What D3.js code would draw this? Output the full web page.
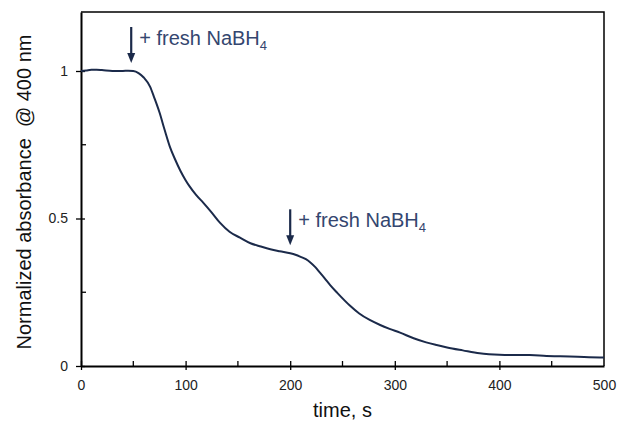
<!DOCTYPE html>
<html>
<head>
<meta charset="utf-8">
<script src="https://cdn.jsdelivr.net/npm/d3@7"></script>
<style>
	body { margin: 0; background: #fff; }
	svg { display: block; font-family: "Liberation Sans", Arial, sans-serif; }
</style>
</head>
<body>
<div class="c-svg"></div>
<script>
//DATA
//-------------------------------------------------------------------------
const time = [0, 5, 10, 15, 20, 30, 40, 45, 50, 55, 60, 66, 70, 75, 80, 85, 90, 95, 100, 104,
	110, 117, 125, 133, 142, 152, 162, 172, 181, 190, 200, 205, 210, 215, 219, 224, 228, 233, 238, 245,
	257, 266, 276, 286, 295, 305, 318, 330, 340, 350, 365, 381, 390, 400, 415, 429, 445, 458, 475, 496, 500];
const absorbance = [1.0, 1.002, 1.004, 1.004, 1.003, 1.0, 1.0, 1.001, 1.0, 0.993, 0.978, 0.947, 0.91, 0.86, 0.80, 0.743, 0.70, 0.662, 0.63, 0.608,
	0.58, 0.553, 0.52, 0.485, 0.455, 0.435, 0.416, 0.405, 0.396, 0.389, 0.382, 0.377, 0.37, 0.362, 0.352, 0.335, 0.318, 0.297, 0.275, 0.248,
	0.205, 0.178, 0.156, 0.139, 0.126, 0.113, 0.094, 0.08, 0.071, 0.063, 0.053, 0.043, 0.04, 0.038, 0.037, 0.037, 0.034, 0.033, 0.031, 0.029, 0.029];

const xTicks = [0, 100, 200, 300, 400, 500];
const xMinor = [50, 150, 250, 350, 450];
const yTicks = [0, 0.5, 1];
const yMinor = [0.25, 0.75];

//additions of NaBH4 (time, s)
const additions = [48, 200];

//OPTS
//-------------------------------------------------------------------------
const opts = {
	width: 618,
	height: 433,
	margin: { top: 12, right: 14, bottom: 67, left: 81 }
};
const inner = {
	width: opts.width - opts.margin.left - opts.margin.right,
	height: opts.height - opts.margin.top - opts.margin.bottom
};
const lineColor = "#1b2a4a";
const noteColor = "#34466f";

const svg = d3.select(".c-svg")
	.append("svg")
	.attr("width", opts.width)
	.attr("height", opts.height);

const g = svg.append("g")
	.attr("transform", `translate(${opts.margin.left} ${opts.margin.top})`);

//SCALES
//-------------------------------------------------------------------------
const x = d3.scaleLinear().domain([0, 500]).range([0, inner.width]);
const y = d3.scaleLinear().domain([0, 1.2]).range([inner.height, 0]);

//frame (top + right)
g.append("path")
	.attr("d", `M0,0H${inner.width}V${inner.height}`)
	.attr("fill", "none")
	.attr("stroke", "#000")
	.attr("stroke-width", 1.5);

//AXES
//-------------------------------------------------------------------------
const xAxis = g.append("g")
	.attr("transform", `translate(0 ${inner.height})`)
	.call(d3.axisBottom(x).tickValues(xTicks).tickSize(4).tickPadding(10).tickSizeOuter(0));
xAxis.selectAll(".tick line").attr("y1", -5);
xAxis.selectAll(".tick")
	.filter(d => d === 500)
	.select("line").remove();

xAxis.selectAll(".minor")
	.data(xMinor)
	.join("line")
	.attr("class", "minor")
	.attr("x1", d => x(d)).attr("x2", d => x(d))
	.attr("y1", 0).attr("y2", -5)
	.attr("stroke", "#000");

const yAxis = g.append("g")
	.call(d3.axisLeft(y).tickValues(yTicks).tickSize(5).tickPadding(8).tickSizeOuter(0).tickFormat(d3.format("")));
yAxis.selectAll(".tick line").attr("x1", 4);

yAxis.selectAll(".minor")
	.data(yMinor)
	.join("line")
	.attr("class", "minor")
	.attr("y1", d => y(d)).attr("y2", d => y(d))
	.attr("x1", 0).attr("x2", 5)
	.attr("stroke", "#000");

svg.selectAll(".domain").attr("stroke-width", 2);
svg.selectAll(".tick line, .minor").attr("stroke-width", 1.3);
svg.selectAll(".tick text")
	.attr("font-size", 14)
	.attr("font-family", "'Liberation Sans', Arial, sans-serif")
	.attr("fill", "#222");

//axis titles
svg.append("text")
	.attr("x", opts.margin.left + inner.width / 2)
	.attr("y", 417)
	.attr("text-anchor", "middle")
	.attr("font-size", 20)
	.attr("fill", "#111")
	.text("time, s");

svg.append("text")
	.attr("transform", "translate(31 192) rotate(-90)")
	.attr("text-anchor", "middle")
	.attr("font-size", 20)
	.attr("fill", "#111")
	.attr("xml:space", "preserve")
	.style("white-space", "pre")
	.text("Normalized absorbance  @ 400 nm");

//CURVE
//-------------------------------------------------------------------------
const line = d3.line()
	.x((d, i) => x(time[i]))
	.y(d => y(d))
	.curve(d3.curveMonotoneX);

g.append("path")
	.datum(absorbance)
	.attr("d", line)
	.attr("fill", "none")
	.attr("stroke", lineColor)
	.attr("stroke-width", 2);

//ANNOTATIONS
//-------------------------------------------------------------------------
const valueAt = t => absorbance[d3.bisectLeft(time, t)];

const notes = g.selectAll(".note")
	.data(additions)
	.join("g")
	.attr("class", "note")
	.attr("transform", d => `translate(${x(d)} ${y(valueAt(d)) - 8})`);

notes.append("line")
	.attr("y1", -36).attr("y2", -8)
	.attr("stroke", lineColor)
	.attr("stroke-width", 2.2);

notes.append("path")
	.attr("d", "M-4,-10L4,-10L0,0Z")
	.attr("fill", lineColor);

const label = notes.append("text")
	.attr("x", 8)
	.attr("y", -18)
	.attr("font-size", 20)
	.attr("fill", noteColor);
label.append("tspan").text("+ fresh NaBH");
label.append("tspan")
	.attr("font-size", 13)
	.attr("dy", 5)
	.text("4");
</script>
</body>
</html>
